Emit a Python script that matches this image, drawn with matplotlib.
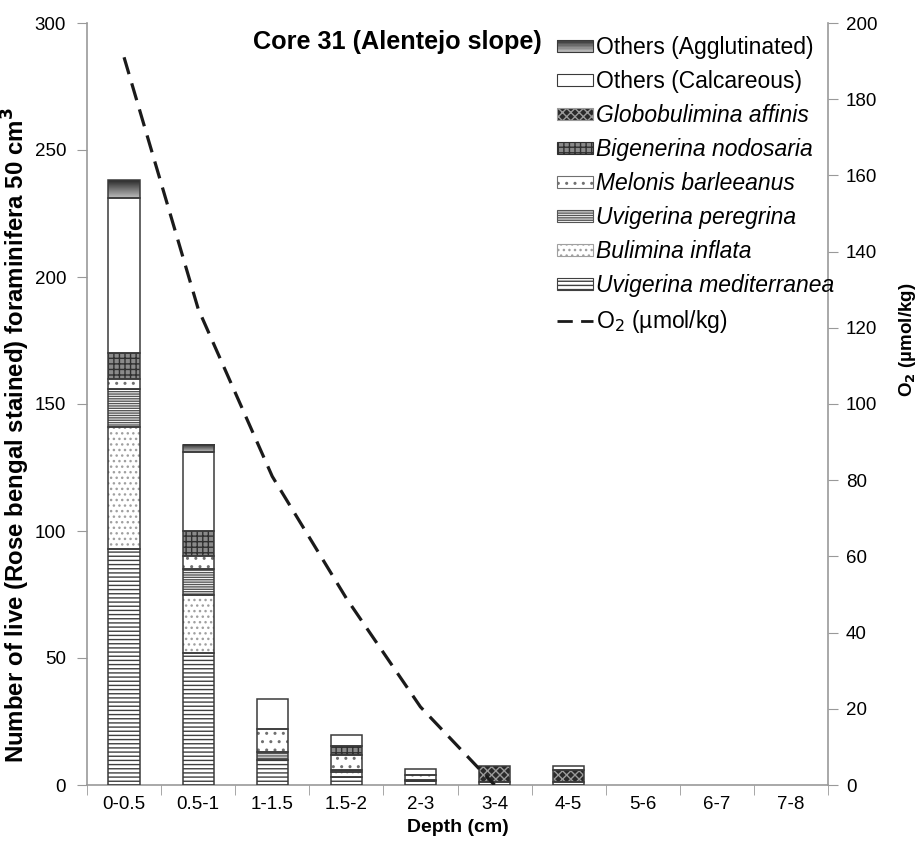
import matplotlib
matplotlib.use('Agg')
import matplotlib.pyplot as plt
import matplotlib.patches as mpatches
from matplotlib.lines import Line2D
from matplotlib.legend_handler import HandlerBase
import numpy as np

plt.rcParams['font.family'] = ['Liberation Sans', 'DejaVu Sans']
plt.rcParams['hatch.linewidth'] = 1.0

depths = ['0-0.5', '0.5-1', '1-1.5', '1.5-2', '2-3', '3-4', '4-5', '5-6', '6-7', '7-8']
u_mediterranea = [93, 52, 10, 3, 1.5, 1, 1.3, 0, 0, 0]
b_inflata = [48, 23, 0, 2, 0, 0, 0, 0, 0, 0]
u_peregrina = [15, 10, 3, 1, 0.5, 0, 0, 0, 0, 0]
m_barleeanus = [4, 5, 9, 6, 2, 0, 0, 0, 0, 0]
b_nodosaria = [10, 10, 0, 3.5, 0, 0, 0, 0, 0, 0]
g_affinis = [0, 0, 0, 0, 0, 6.5, 4.6, 0, 0, 0]
others_calc = [61, 31, 12, 4, 2.3, 0, 1.6, 0, 0, 0]
others_aggl = [7, 3, 0, 0, 0, 0, 0, 0, 0, 0]
o2_depths = depths[:6]
o2_values = [191, 125, 81, 49, 20.5, 0]

series = [
    ('Uvigerina mediterranea', u_mediterranea, 'white', '#404040', '----', True),
    ('Bulimina inflata', b_inflata, 'white', '#a0a0a0', '...', True),
    ('Uvigerina peregrina', u_peregrina, 'white', '#555555', '-------', True),
    ('Melonis barleeanus', m_barleeanus, 'white', '#707070', '..', True),
    ('Bigenerina nodosaria', b_nodosaria, '#8a8a8a', '#303030', '+++', True),
    ('Globobulimina affinis', g_affinis, '#2a2a2a', '#9a9a9a', 'xxxx', True),
    ('Others (Calcareous)', others_calc, 'white', 'white', '', False),
    ('Others (Agglutinated)', others_aggl, 'gradient', None, '', False),
]

grad = np.linspace(0, 1, 64).reshape(-1, 1)
grad_cmap = matplotlib.colors.LinearSegmentedColormap.from_list('g', ['#bdbdbd', '#2a2a2a'])


class GradientHandler(HandlerBase):
    def create_artists(self, legend, orig_handle, xdescent, ydescent, width, height, fontsize, trans):
        arts = []
        n = 8
        for k in range(n):
            c = grad_cmap((k + 0.5) / n)
            r = mpatches.Rectangle((-xdescent, -ydescent + k * height / n), width, height / n,
                                   facecolor=c, edgecolor='none', transform=trans)
            arts.append(r)
        arts.append(mpatches.Rectangle((-xdescent, -ydescent), width, height, fill=False,
                                       edgecolor='#3a3a3a', linewidth=0.8, transform=trans))
        return arts


fig = plt.figure(figsize=(9.18, 8.52), dpi=100)
ax = fig.add_axes([87/918, 1-785/852, (828-87)/918, (785-23)/852])
x = np.arange(len(depths))
width = 0.42
bottom = np.zeros(len(depths))
handles = []
for name, vals, fc, hc, hatch, italic in series:
    v = np.array(vals, dtype=float)
    nz = v > 0
    if fc == 'gradient':
        for xi, b, h in zip(x[nz], bottom[nz], v[nz]):
            ax.imshow(grad, cmap=grad_cmap, aspect='auto', origin='lower',
                      extent=[xi - width/2, xi + width/2, b, b + h], zorder=2)
        gh = mpatches.Patch(facecolor='#555555', label=name)
        handles.append((gh, name, italic))
    else:
        ax.bar(x[nz], v[nz], width, bottom=bottom[nz], facecolor=fc, edgecolor=hc,
               hatch=hatch, linewidth=0, zorder=2)
        handles.append((mpatches.Patch(facecolor=fc, edgecolor=hc if hatch else '#3a3a3a',
                                       hatch=hatch, linewidth=0.8), name, italic))
    ax.bar(x[nz], v[nz], width, bottom=bottom[nz], fill=False, edgecolor='#3a3a3a',
           linewidth=1.1, zorder=3)
    bottom += v

ax.set_xlim(-0.5, 9.5)
ax.set_ylim(0, 300)
ax.set_yticks(np.arange(0, 301, 50))
ax.set_xticks(x)
ax.set_xticklabels(depths, fontsize=13.5)
ax.set_xticks(np.arange(-0.5, 10, 1), minor=True)
ax.tick_params(axis='x', which='major', length=0, pad=8)
ax.tick_params(axis='x', which='minor', length=7, color='#999999', direction='out')
ax.tick_params(axis='y', length=7, color='#999999', direction='out', labelsize=13.5, pad=8)
for s in ['top', 'right']:
    ax.spines[s].set_visible(False)
for s in ['left', 'bottom']:
    ax.spines[s].set_color('#999999')
    ax.spines[s].set_linewidth(1.2)
ax.set_xlabel('Depth (cm)', fontsize=14, fontweight='bold', labelpad=4)
ax.set_ylabel('Number of live (Rose bengal stained) foraminifera 50 cm$^{\\mathbf{3}}$',
              fontsize=17.3, fontweight='bold')
ax.yaxis.set_label_coords(-0.0745, 0.459)

ax2 = ax.twinx()
ax2.set_ylim(0, 200)
ax2.set_yticks(np.arange(0, 201, 20))
ax2.plot(np.arange(len(o2_depths)), o2_values, color='#1a1a1a', linewidth=2.3,
         dashes=(5.5, 3), zorder=4)
for s in ['top', 'left', 'bottom']:
    ax2.spines[s].set_visible(False)
ax2.spines['right'].set_color('#999999')
ax2.spines['right'].set_linewidth(1.2)
ax2.tick_params(axis='y', length=7, color='#999999', direction='out', labelsize=13.5, pad=6)
ax2.set_ylabel('O$_\\mathbf{2}$ (µmol/kg)', fontsize=13.5, fontweight='bold')
ax2.yaxis.set_label_coords(1.093, 0.584)

fig.text(397/918, 1-42/852, 'Core 31 (Alentejo slope)', fontsize=18.2, fontweight='bold',
         ha='center', va='center')

leg_handles = [h for h, n, i in handles][::-1]
leg_labels = [n for h, n, i in handles][::-1]
o2_handle = Line2D([], [], color='#1a1a1a', linewidth=2.0, dashes=(5.5, 3))
leg_handles.append(o2_handle)
leg_labels.append('O$_2$ (µmol/kg)')
leg = fig.legend(leg_handles, leg_labels, loc='upper left',
                 bbox_to_anchor=(557/918, 1-36/852), frameon=False, fontsize=16.5,
                 handlelength=1.55, handleheight=0.45, handletextpad=0.17,
                 labelspacing=0.48, borderpad=0, borderaxespad=0,
                 handler_map={leg_handles[0]: GradientHandler()})
italics = [i for h, n, i in handles][::-1] + [False]
for t, it in zip(leg.get_texts(), italics):
    if it:
        t.set_style('italic')

fig.savefig('out.png', dpi=100)
